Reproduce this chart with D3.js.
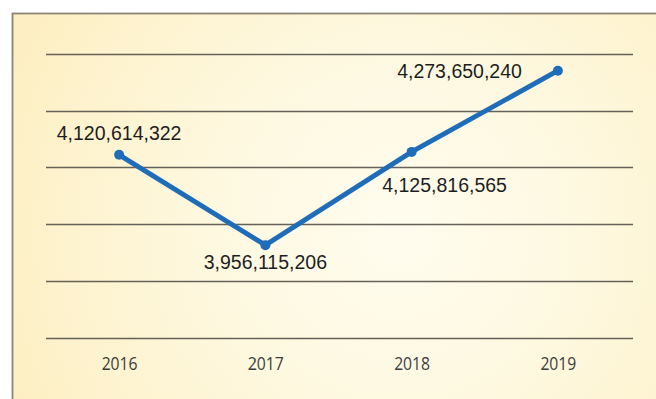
<!DOCTYPE html>
<html>
<head>
<meta charset="utf-8">
<script src="https://cdn.jsdelivr.net/npm/d3@7"></script>
<style>
  html, body { margin: 0; padding: 0; background: #ffffff; }
  svg { display: block; }
</style>
</head>
<body>
<div id="chart"></div>
<script>
// Annual totals
const years = ["2016", "2017", "2018", "2019"];
const totals = [4120614322, 3956115206, 4125816565, 4273650240];

// Label placement for each point (layout only)
const labelPlacement = [
  { anchor: "middle", dx: 0,   dy: -15 },
  { anchor: "middle", dx: 0,   dy: 24 },
  { anchor: "middle", dx: 33,  dy: 40 },
  { anchor: "end",    dx: -36, dy: 7 }
];

const W = 656, H = 399;
const svg = d3.select("#chart").append("svg")
  .attr("width", W).attr("height", H);

// Soft cream panel background
const defs = svg.append("defs");
const grad = defs.append("radialGradient")
  .attr("id", "panelFill")
  .attr("gradientUnits", "userSpaceOnUse")
  .attr("cx", 400).attr("cy", 230).attr("r", 430);
grad.append("stop").attr("offset", "0%").attr("stop-color", "#fffcef");
grad.append("stop").attr("offset", "45%").attr("stop-color", "#fef8df");
grad.append("stop").attr("offset", "100%").attr("stop-color", "#fdefc2");

svg.append("rect")
  .attr("x", 12.5).attr("y", 13.5)
  .attr("width", W + 20).attr("height", H + 20)
  .attr("fill", "url(#panelFill)")
  .attr("stroke", "#8a8574")
  .attr("stroke-width", 1.8);

// Scales
const x = d3.scalePoint()
  .domain(years)
  .range([46, 631])
  .padding(0.5);

const y = d3.scaleLinear()
  .domain([3788000000, 4304000000])
  .range([337.5, 54]);

// Horizontal grid: five equal bands across the value range
const [d0, d1] = y.domain();
const gridValues = d3.range(6).map(i => d0 + (d1 - d0) * i / 5);
svg.append("g")
  .selectAll("line")
  .data(gridValues)
  .join("line")
  .attr("x1", 46).attr("x2", 633)
  .attr("y1", d => Math.round(y(d)) + 0.5)
  .attr("y2", d => Math.round(y(d)) + 0.5)
  .attr("stroke", "#66625a")
  .attr("stroke-width", 1.3);

// Year axis labels
const xAxis = d3.axisBottom(x).tickSize(0).tickPadding(0);
const ax = svg.append("g")
  .attr("transform", "translate(0,356)")
  .call(xAxis);
ax.select(".domain").remove();
ax.selectAll("text")
  .attr("dy", "0")
  .attr("y", 14)
  .attr("fill", "#3d3d3d")
  .attr("font-family", "'Open Sans', 'Noto Sans', sans-serif")
  .attr("font-size", 18)
  .attr("textLength", 36)
  .attr("lengthAdjust", "spacingAndGlyphs");

// Line
const pts = years.map((yr, i) => [x(yr), y(totals[i])]);
svg.append("path")
  .datum(pts)
  .attr("d", d3.line())
  .attr("fill", "none")
  .attr("stroke", "#1f6db8")
  .attr("stroke-width", 5)
  .attr("stroke-linejoin", "miter");

svg.append("g")
  .selectAll("circle")
  .data(pts)
  .join("circle")
  .attr("cx", d => d[0])
  .attr("cy", d => d[1])
  .attr("r", 5)
  .attr("fill", "#1f6db8");

// Value labels
const fmt = d3.format(",");
svg.append("g")
  .selectAll("text")
  .data(totals)
  .join("text")
  .attr("x", (d, i) => x(years[i]) + labelPlacement[i].dx)
  .attr("y", (d, i) => y(d) + labelPlacement[i].dy)
  .attr("text-anchor", (d, i) => labelPlacement[i].anchor)
  .attr("fill", "#1e1e1e")
  .attr("font-family", "'Liberation Sans', Arial, sans-serif")
  .attr("font-size", 19.5)
  .text(d => fmt(d));
</script>
</body>
</html>
